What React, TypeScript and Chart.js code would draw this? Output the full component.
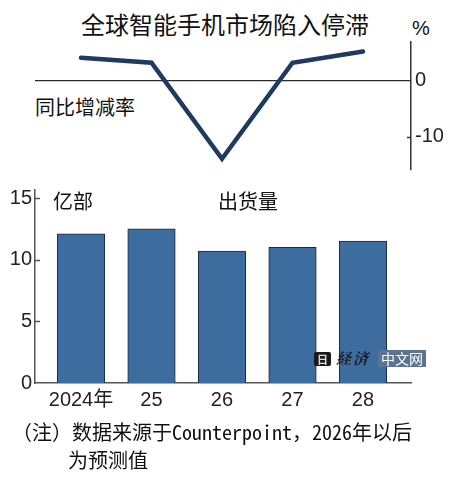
import React, { useEffect, useRef } from "react";
import { Chart, registerables } from "chart.js";

Chart.register(...registerables);

// ---- data ----
const categories = ["2024年", "25", "26", "27", "28"];
const growthRate = [4.1, 3.2, -13.9, 3.2, 5.2]; // 同比增减率 (%)
const shipments = [12.1, 12.5, 10.7, 11.0, 11.5]; // 出货量 (亿部)
const rateTicks = [-10, 0];
const barTicks = [0, 5, 10, 15];

const NUM_FONT = '"Liberation Sans Narrow", "Liberation Sans", "Noto Sans CJK SC", sans-serif';
const CJK_FONT = '"Noto Sans CJK SC", sans-serif';
const NOTE_FONT = '"Noto Sans Mono CJK SC", "Noto Sans CJK SC", monospace';

const X_MIN = -0.6525;
const X_MAX = 4.681;

const stubPlugin = {
  id: "stubs",
  afterDraw(chart: any, _args: any, opts: any) {
    const { ctx, chartArea } = chart;
    const scale = chart.scales.y;
    ctx.save();
    ctx.strokeStyle = opts.color;
    ctx.lineWidth = 1.5;
    const x0 = opts.side === "left" ? chartArea.left : chartArea.right;
    const dir = opts.side === "left" ? 1 : -1;
    for (const v of opts.values) {
      const y = Math.round(scale.getPixelForValue(v)) + 0.5;
      ctx.beginPath();
      ctx.moveTo(x0, y);
      ctx.lineTo(x0 + dir * opts.length, y);
      ctx.stroke();
    }
    ctx.restore();
  },
};

const noPad = (s: any) => {
  s.paddingTop = 0;
  s.paddingBottom = 0;
  s.paddingLeft = 0;
  s.paddingRight = 0;
};

function LineChart() {
  const ref = useRef<HTMLCanvasElement>(null);
  useEffect(() => {
    const chart = new Chart(ref.current as HTMLCanvasElement, {
      type: "line",
      data: {
        datasets: [
          {
            data: growthRate.map((v, i) => ({ x: i, y: v })),
            borderColor: "#1e3a5f",
            borderWidth: 4.5,
            pointRadius: 0,
            tension: 0,
            borderJoinStyle: "miter",
            borderCapStyle: "round",
          },
        ],
      },
      options: {
        animation: false,
        responsive: false,
        devicePixelRatio: 1,
        layout: { padding: { left: 35, top: 42, bottom: 10, right: 0 } },
        plugins: {
          legend: { display: false },
          tooltip: { enabled: false },
          stubs: { values: [-10], side: "right", length: 4, color: "#333" },
        } as any,
        scales: {
          x: { type: "linear", min: X_MIN, max: X_MAX, display: false, offset: false },
          y: {
            position: "right",
            min: -15.9,
            max: 6.9,
            afterBuildTicks: (s: any) => {
              s.ticks = rateTicks.map((v) => ({ value: v }));
            },
            afterFit: (s: any) => {
              s.width = 39;
              noPad(s);
            },
            ticks: {
              color: "#222",
              padding: 4,
              font: { family: NUM_FONT, size: 20 },
            },
            grid: {
              drawTicks: false,
              color: (c: any) => (c.tick && c.tick.value === 0 ? "#2a2a2a" : "rgba(0,0,0,0)"),
              lineWidth: 1.2,
            },
            border: { display: true, color: "#333", width: 1.5 },
          },
        },
      },
      plugins: [stubPlugin],
    });
    return () => chart.destroy();
  }, []);
  return (
    <canvas
      ref={ref}
      width={450}
      height={180}
      style={{ position: "absolute", left: 0, top: 0, width: 450, height: 180 }}
    />
  );
}

function BarChart() {
  const ref = useRef<HTMLCanvasElement>(null);
  useEffect(() => {
    const chart = new Chart(ref.current as HTMLCanvasElement, {
      type: "bar",
      data: {
        datasets: [
          {
            data: shipments.map((v, i) => ({ x: i, y: v })),
            backgroundColor: "#3d6d9f",
            borderColor: "#1c2a3c",
            borderWidth: 1,
            barThickness: 47.5,
          },
        ],
      },
      options: {
        animation: false,
        responsive: false,
        devicePixelRatio: 1,
        layout: { padding: { left: 0, top: 10, bottom: 0, right: 39 } },
        plugins: {
          legend: { display: false },
          tooltip: { enabled: false },
          stubs: { values: [5, 10, 15], side: "left", length: 5, color: "#555" },
        } as any,
        scales: {
          x: {
            type: "linear",
            offset: false,
            min: X_MIN,
            max: X_MAX,
            afterBuildTicks: (s: any) => {
              s.ticks = categories.map((_, i) => ({ value: i }));
            },
            afterFit: (s: any) => {
              s.height = 37;
              noPad(s);
            },
            ticks: {
              autoSkip: false,
              maxRotation: 0,
              color: "#222",
              padding: 5,
              font: { family: NUM_FONT, size: 20 },
              callback: (v: any) => categories[v as number] ?? "",
            },
            grid: { display: false, drawTicks: false },
            border: { display: true, color: "#555", width: 1.5 },
          },
          y: {
            position: "left",
            min: 0,
            max: 15.65,
            afterBuildTicks: (s: any) => {
              s.ticks = barTicks.map((v) => ({ value: v }));
            },
            afterFit: (s: any) => {
              s.width = 35;
              noPad(s);
            },
            ticks: {
              color: "#222",
              padding: 3,
              font: { family: NUM_FONT, size: 20 },
            },
            grid: { display: false, drawTicks: false },
            border: { display: true, color: "#555", width: 1.5 },
          },
        },
      },
      plugins: [stubPlugin],
    });
    return () => chart.destroy();
  }, []);
  return (
    <canvas
      ref={ref}
      width={450}
      height={240}
      style={{ position: "absolute", left: 0, top: 180, width: 450, height: 240 }}
    />
  );
}

const txt = (left: number, top: number, size: number, family: string, extra: any = {}) => ({
  position: "absolute" as const,
  left,
  top,
  fontSize: size,
  lineHeight: `${size}px`,
  fontFamily: family,
  color: "#111",
  whiteSpace: "nowrap" as const,
  ...extra,
});

export default function App() {
  return (
    <div
      style={{
        position: "absolute",
        left: 0,
        top: 0,
        width: 450,
        height: 481,
        background: "#fff",
        overflow: "hidden",
      }}
    >
      <div style={txt(0, 12, 24, CJK_FONT, { width: 450, textAlign: "center" })}>
        全球智能手机市场陷入停滞
      </div>
      <div style={txt(412, 18, 20, '"Liberation Sans", sans-serif')}>%</div>
      <div style={txt(35, 97, 20, CJK_FONT)}>同比增减率</div>
      <LineChart />
      <BarChart />
      <div style={txt(53, 191, 20, CJK_FONT)}>亿部</div>
      <div style={txt(218, 191, 20, CJK_FONT)}>出货量</div>
      {/* watermark */}
      <div
        style={txt(314, 352, 11, CJK_FONT, {
          background: "#1a1a1a",
          color: "#ddd",
          padding: "1px 3px",
          lineHeight: "12px",
          borderRadius: 2,
          fontWeight: "bold",
        })}
      >
        日
      </div>
      <div
        style={txt(336, 350, 15, '"Noto Serif CJK SC", "DejaVu Serif", serif', {
          fontWeight: "bold",
          fontStyle: "italic",
          color: "#1a1a1a",
          letterSpacing: 2,
        })}
      >
        経済
      </div>
      <div
        style={txt(378, 350, 14, CJK_FONT, {
          background: "#5d7393",
          color: "#fff",
          padding: "1px 3px",
          lineHeight: "15px",
        })}
      >
        中文网
      </div>
      <div style={txt(12, 422, 20, NOTE_FONT)}>（注）数据来源于Counterpoint，2026年以后</div>
      <div style={txt(68, 450, 20, NOTE_FONT)}>为预测值</div>
    </div>
  );
}
